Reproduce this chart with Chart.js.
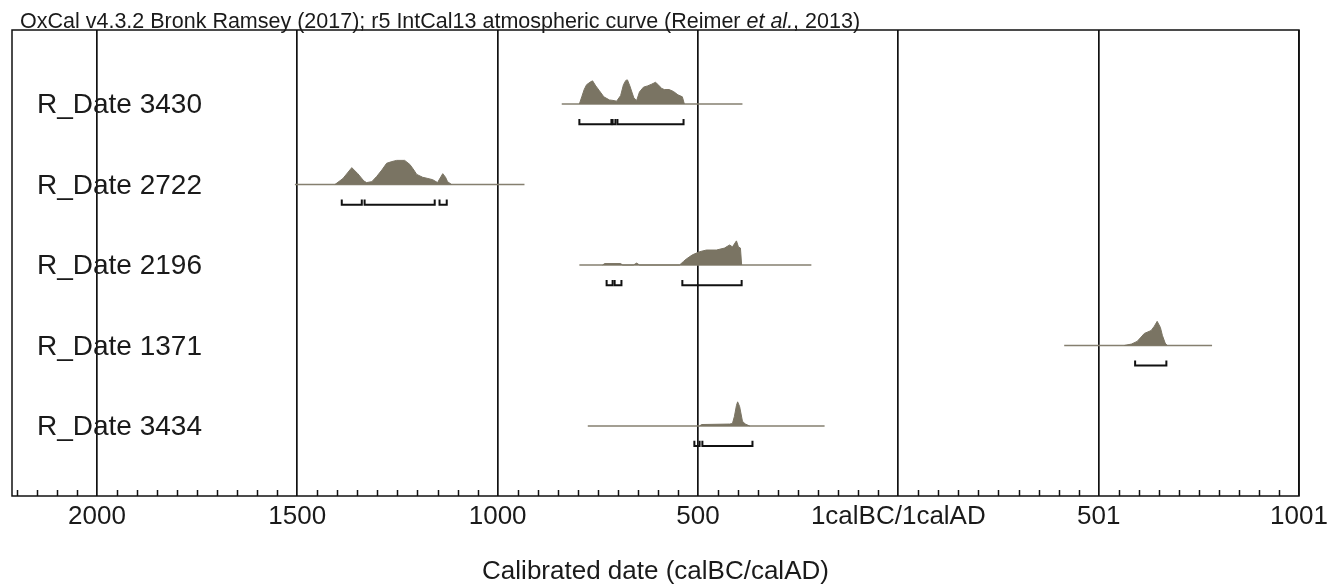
<!DOCTYPE html>
<html>
<head>
<meta charset="utf-8">
<title>OxCal multiplot</title>
<script src="https://cdn.jsdelivr.net/npm/chart.js@4.4.0/dist/chart.umd.min.js"></script>
<style>
  html, body { margin: 0; padding: 0; background: #fff; }
  #wrap { width: 1337px; height: 586px; }
</style>
</head>
<body>
<div id="wrap"><canvas id="chart"></canvas></div>
<script>
"use strict"

// rows, top to bottom
const rowNames = ["R_Date 3430", "R_Date 2722", "R_Date 2196", "R_Date 1371", "R_Date 3434"];

// calendar years, BC negative ; [year, relative probability]
const dist3430 = [[-796, 0], [-790, 0.3], [-784, 0.6], [-778, 0.8], [-768, 0.92], [-763, 0.96], [-755, 0.75],
  [-746, 0.55], [-735, 0.3], [-721, 0.17], [-712, 0.15], [-703, 0.12], [-693, 0.35], [-686, 0.8], [-680, 0.98],
  [-676, 1.0], [-670, 0.75], [-660, 0.25], [-653, 0.15], [-646, 0.5], [-636, 0.7], [-626, 0.75], [-616, 0.82],
  [-606, 0.9], [-598, 0.78], [-591, 0.65], [-584, 0.6], [-572, 0.6], [-561, 0.52], [-550, 0.38], [-539, 0.3], [-534, 0]];
const dist2722 = [[-1406, 0], [-1386, 0.25], [-1364, 0.7], [-1349, 0.45], [-1334, 0.15], [-1327, 0.08], [-1314, 0.12],
  [-1302, 0.33], [-1289, 0.6], [-1277, 0.88], [-1264, 0.95], [-1252, 1.0], [-1232, 1.0], [-1219, 0.83], [-1209, 0.6],
  [-1202, 0.42], [-1187, 0.3], [-1174, 0.25], [-1162, 0.2], [-1150, 0.08], [-1137, 0.45], [-1130, 0.3], [-1125, 0.12], [-1115, 0]];
const dist2196 = [[-738, 0], [-733, 0.06], [-693, 0.06], [-688, 0], [-661, 0], [-653, 0.08], [-646, 0], [-546, 0],
  [-536, 0.15], [-529, 0.25], [-514, 0.42], [-496, 0.55], [-479, 0.62], [-454, 0.62], [-434, 0.7], [-421, 0.83],
  [-414, 0.75], [-404, 1.0], [-399, 0.75], [-394, 0.7], [-391, 0]];
const dist1371 = [[564, 0], [582, 0.06], [596, 0.17], [606, 0.35], [614, 0.5], [631, 0.62], [639, 0.8], [646, 1.0],
  [654, 0.75], [659, 0.42], [666, 0.1], [671, 0]];
const dist3434 = [[-496, 0], [-491, 0.06], [-421, 0.08], [-414, 0.1], [-409, 0.4], [-404, 0.85], [-401, 1.0],
  [-396, 0.8], [-389, 0.2], [-382, 0.08], [-371, 0]];

// span of the thin line under each distribution
const lineExtents = [[-840, -389], [-1506, -933], [-796, -217], [414, 783], [-775, -184]];

// 95.4% ranges (brackets)
const ranges3430 = [[-796, -716], [-713, -706], [-701, -536]];
const ranges2722 = [[-1389, -1339], [-1332, -1157], [-1145, -1127]];
const ranges2196 = [[-728, -713], [-708, -691], [-539, -391]];
const ranges1371 = [[591, 669]];
const ranges3434 = [[-509, -496], [-489, -364]];

const xTickValues = [-2000, -1500, -1000, -500, 0, 500, 1000];
const xTickLabels = ["2000", "1500", "1000", "500", "1calBC/1calAD", "501", "1001"];

const titleParts = ["OxCal v4.3.2 Bronk Ramsey (2017); r5 IntCal13 atmospheric curve (Reimer ", "et al.", ", 2013)"];
const axisTitle = "Calibrated date (calBC/calAD)";

const distributions = [dist3430, dist2722, dist2196, dist1371, dist3434];
const allRanges = [ranges3430, ranges2722, ranges2196, ranges1371, ranges3434];

///////////   styles   ///////////

const fillColor = "#7a7463";
const lineColor = "#857f6f";
const peakHeight = 0.3;
const bracketOffset = 0.25;
const bracketTick = 0.065;
const fontFamily = "'Liberation Sans', Arial, sans-serif";

///////////   datasets   ///////////

const datasets = [];

distributions.forEach((dist, i) => {
  datasets.push({
    data: dist.map(d => ({ x: d[0], y: i - d[1] * peakHeight })),
    showLine: true,
    fill: { value: i },
    backgroundColor: fillColor,
    borderColor: fillColor,
    borderWidth: 1,
    pointRadius: 0
  });
  datasets.push({
    data: [{ x: lineExtents[i][0], y: i }, { x: lineExtents[i][1], y: i }],
    showLine: true,
    borderColor: lineColor,
    borderWidth: 1.5,
    pointRadius: 0
  });
  allRanges[i].forEach(r => {
    let yb = i + bracketOffset;
    datasets.push({
      data: [
        { x: r[0], y: yb - bracketTick }, { x: r[0], y: yb },
        { x: r[1], y: yb }, { x: r[1], y: yb - bracketTick }
      ],
      showLine: true,
      borderColor: "#111",
      borderWidth: 2,
      pointRadius: 0
    });
  });
});

///////////   plugins   ///////////

const framePlugin = {
  id: "frame",
  afterDraw(chart) {
    const ctx = chart.ctx;
    const a = chart.chartArea;
    const xs = chart.scales.x;
    ctx.save();
    ctx.strokeStyle = "#111";
    ctx.lineWidth = 1.5;
    // minor ticks, pointing up from the axis
    xs.ticks.forEach(t => {
      if (xTickValues.indexOf(t.value) < 0) {
        let px = Math.round(xs.getPixelForValue(t.value)) + 0.5;
        ctx.beginPath();
        ctx.moveTo(px, a.bottom);
        ctx.lineTo(px, a.bottom - 6);
        ctx.stroke();
      }
    });
    ctx.strokeRect(a.left, a.top, a.right - a.left, a.bottom - a.top);

    // title with italic "et al."
    ctx.fillStyle = "#1a1a1a";
    ctx.textBaseline = "alphabetic";
    let x = 20, y = 28;
    titleParts.forEach((part, k) => {
      ctx.font = (k === 1 ? "italic " : "") + "21.5px " + fontFamily;
      ctx.fillText(part, x, y);
      x += ctx.measureText(part).width;
    });
    ctx.restore();
  }
};

new Chart(document.getElementById("chart"), {
  type: "scatter",
  data: { datasets: datasets },
  options: {
    responsive: true,
    maintainAspectRatio: false,
    animation: false,
    events: [],
    layout: { padding: { left: 12, right: 38, top: 30, bottom: 0 } },
    plugins: { legend: { display: false }, tooltip: { enabled: false } },
    scales: {
      x: {
        type: "linear",
        min: -2212,
        max: 1000,
        z: 1,
        afterBuildTicks(scale) {
          let ticks = [];
          for (let v = -2200; v <= 1000; v += 50) ticks.push({ value: v });
          scale.ticks = ticks;
        },
        afterFit(scale) {
          scale.height = 90;
          scale.paddingLeft = 0;
          scale.paddingRight = 0;
        },
        grid: {
          drawTicks: false,
          lineWidth: 1.7,
          color: ctx => (ctx.tick && xTickValues.indexOf(ctx.tick.value) >= 0) ? "#111" : "rgba(0,0,0,0)"
        },
        border: { display: false },
        ticks: {
          autoSkip: false,
          maxRotation: 0,
          padding: 5,
          color: "#1a1a1a",
          font: { family: fontFamily, size: 26 },
          callback: v => {
            let k = xTickValues.indexOf(v);
            return k >= 0 ? xTickLabels[k] : "";
          }
        },
        title: {
          display: true,
          text: axisTitle,
          color: "#1a1a1a",
          font: { family: fontFamily, size: 26 },
          padding: { top: 0, bottom: -1 }
        }
      },
      y: {
        type: "linear",
        reverse: true,
        min: -0.92,
        max: 4.87,
        afterBuildTicks(scale) {
          scale.ticks = rowNames.map((n, i) => ({ value: i + 0.02 }));
        },
        afterFit(scale) {
          scale.width = 0;
          scale.paddingTop = 0;
          scale.paddingBottom = 0;
        },
        grid: { display: false, drawTicks: false },
        border: { display: false },
        ticks: {
          mirror: true,
          padding: 25,
          color: "#1a1a1a",
          font: { family: fontFamily, size: 28 },
          callback: (v, idx) => rowNames[idx]
        }
      }
    }
  },
  plugins: [framePlugin]
});
</script>
</body>
</html>
